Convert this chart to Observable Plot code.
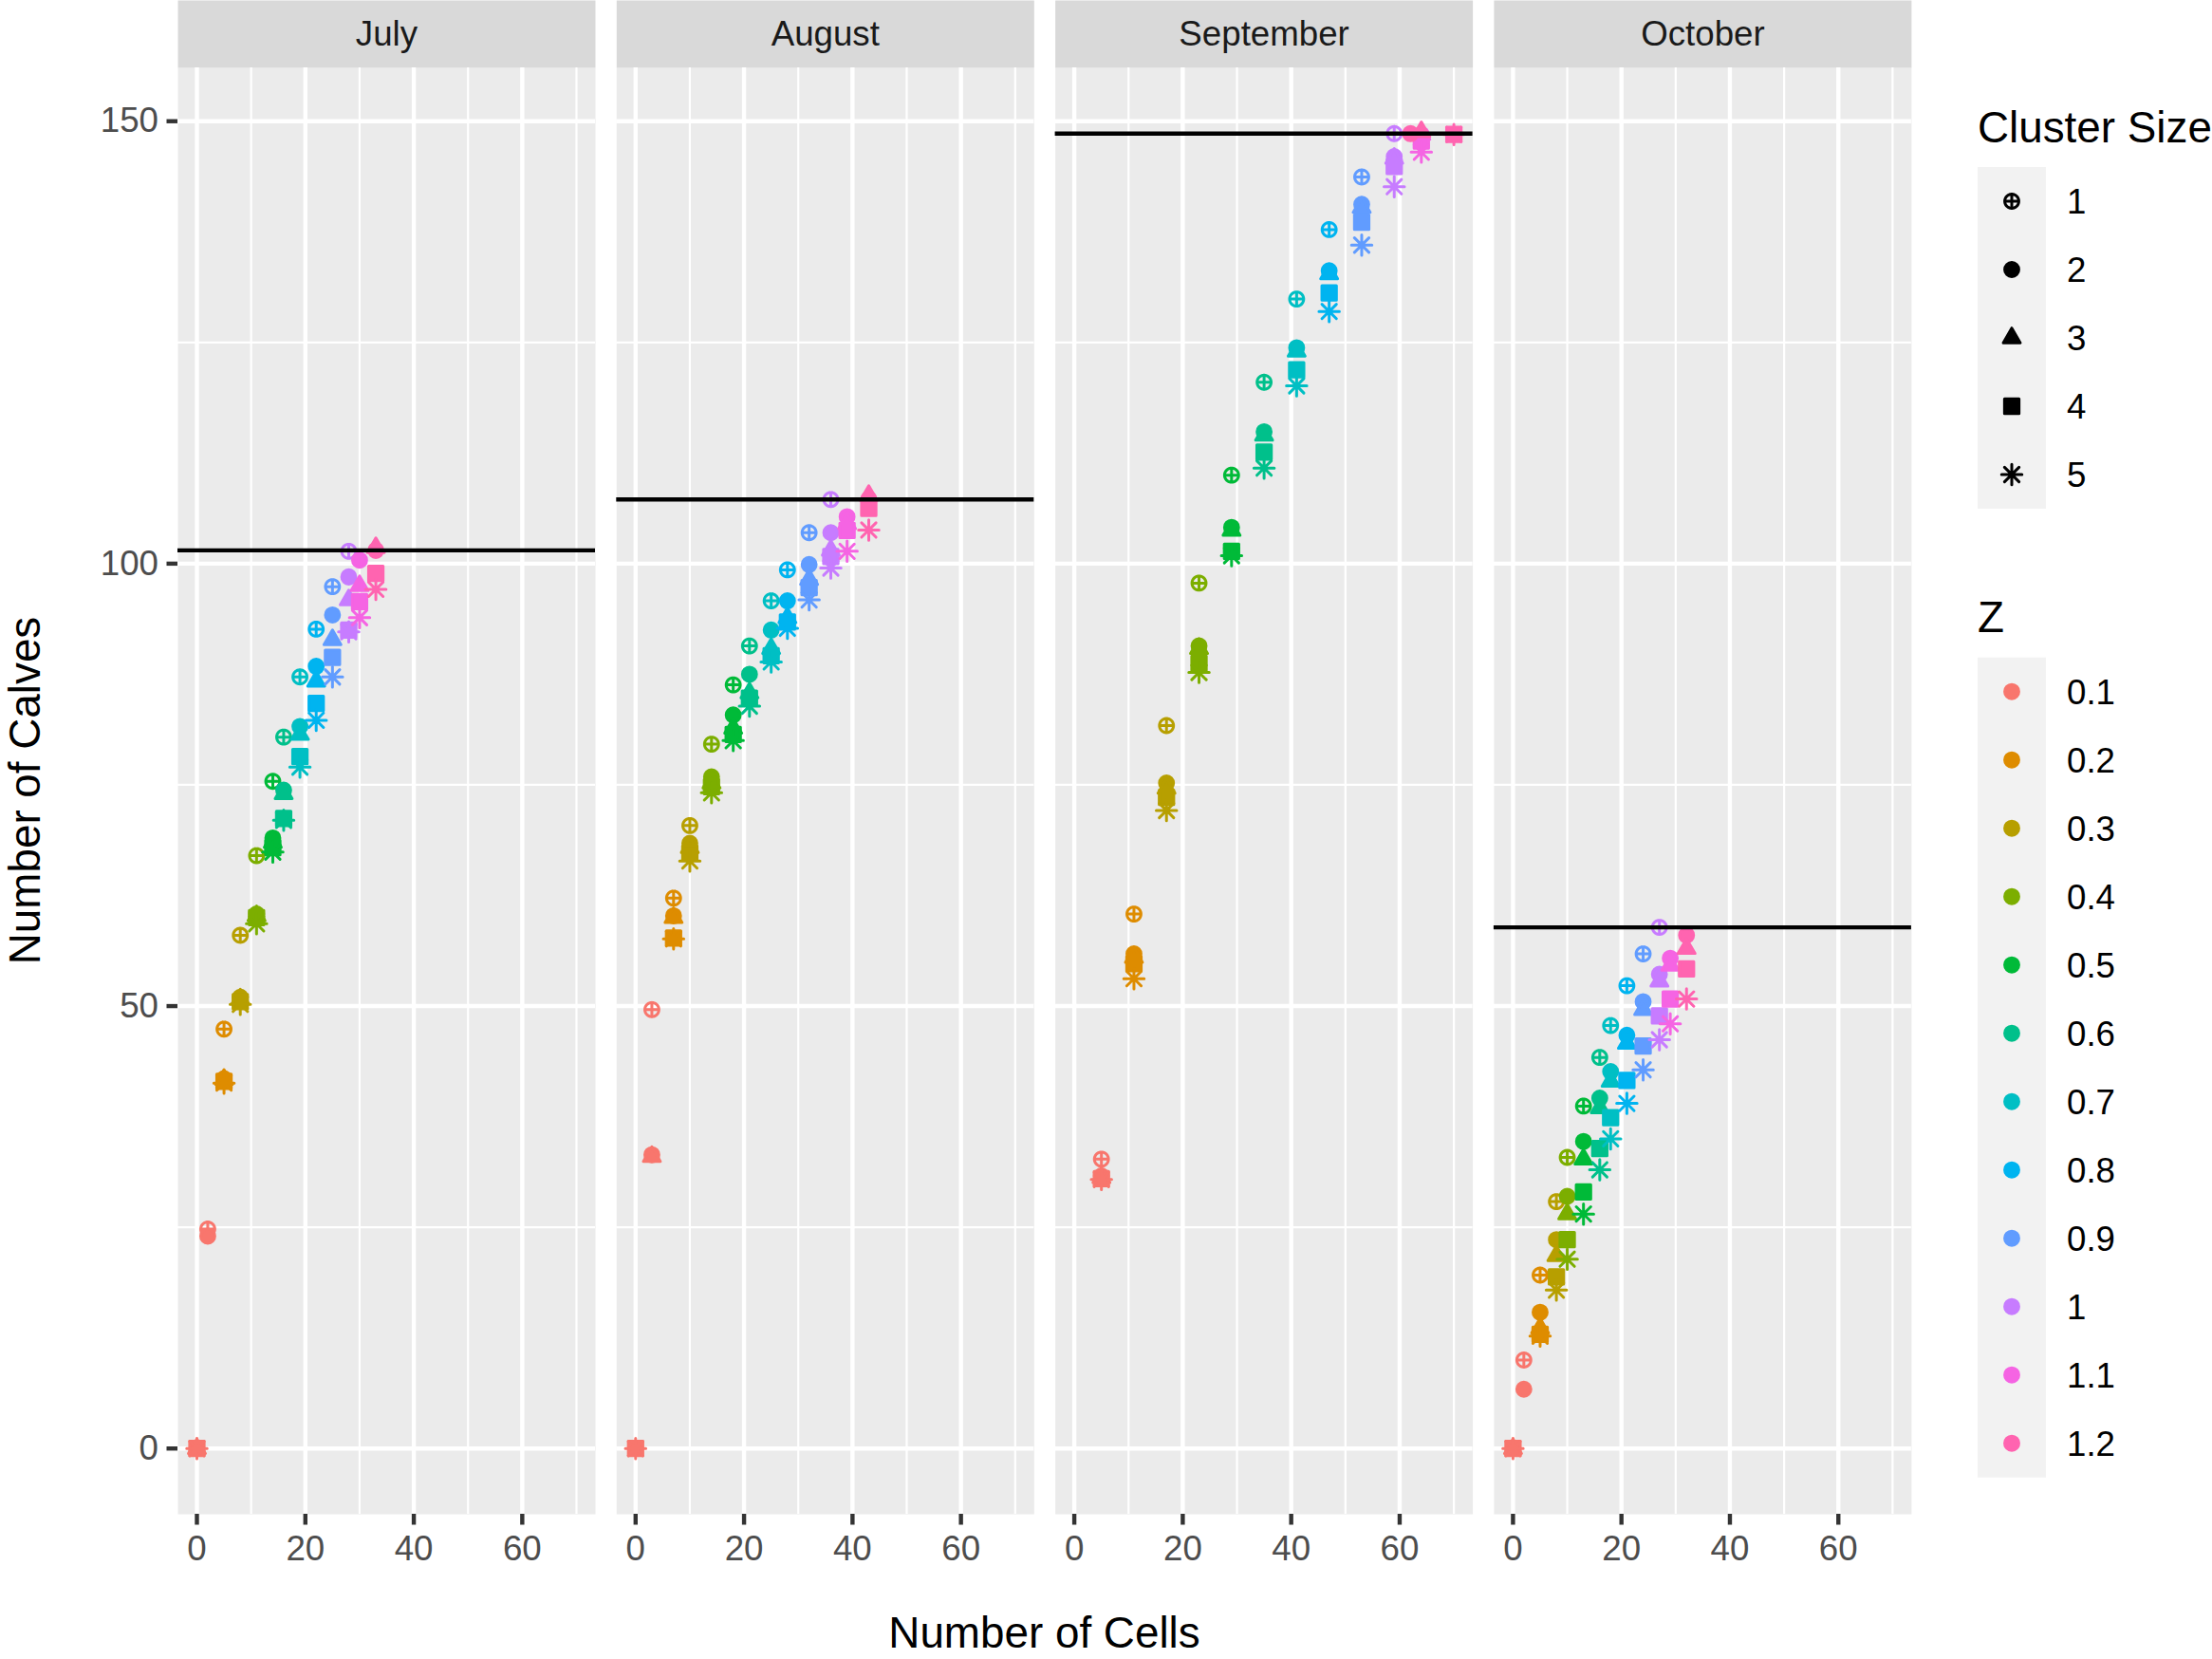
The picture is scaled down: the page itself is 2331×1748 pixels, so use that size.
<!DOCTYPE html>
<html>
<head>
<meta charset="utf-8">
<script src="https://cdn.jsdelivr.net/npm/d3@7"></script>
<script src="https://cdn.jsdelivr.net/npm/@observablehq/plot@0.6"></script>
<style>
html, body { margin: 0; padding: 0; background: #ffffff; }
#wrap { position: relative; width: 2331px; height: 1748px; overflow: hidden; background: #ffffff; }
#wrap > svg { position: absolute; left: 0; top: 0; }
</style>
</head>
<body>
<div id="wrap"></div>
<script>
// ---------------- data ----------------
const months = ["July", "August", "September", "October"];
const zLevels = ["0.1", "0.2", "0.3", "0.4", "0.5", "0.6", "0.7", "0.8", "0.9", "1", "1.1", "1.2"];
const zColors = ["#F8766D", "#DE8C00", "#B79F00", "#7CAE00", "#00BA38", "#00C08B",
                 "#00BFC4", "#00B4F0", "#619CFF", "#C77CFF", "#F564E3", "#FF64B0"];
const clusterSizes = [1, 2, 3, 4, 5];

// number of cells for each Z level
const julyCells      = [2, 5, 8, 11, 14, 16, 19, 22, 25, 28, 30, 33];
const augustCells    = [3, 7, 10, 14, 18, 21, 25, 28, 32, 36, 39, 43];
const septemberCells = [5, 11, 17, 23, 29, 35, 41, 47, 53, 59, 64, 70];
const octoberCells   = [2, 5, 8, 10, 13, 16, 18, 21, 24, 27, 29, 32];

// number of calves per cluster size (index = Z level); null = not shown
const julyCluster1 = [24.8, 47.4, 58.0, 67.0, 75.4, 80.4, 87.2, 92.6, 97.4, 101.4, null, null];
const julyCluster2 = [24.0, 41.8, 51.0, 60.4, 69.0, 74.4, 81.6, 88.4, 94.2, 98.5, 100.4, 101.5];
const julyCluster3 = [0, 41.7, 50.8, 60.2, 68.5, 74.0, 80.7, 86.7, 91.4, 95.9, 97.5, 101.8];
const julyCluster4 = [0, 41.5, 50.5, 60.0, 67.9, 71.2, 78.2, 84.2, 89.4, 92.5, 95.7, 98.9];
const julyCluster5 = [0, 41.3, 50.2, 59.3, 67.4, 71.0, 77.0, 82.3, 87.2, 92.3, 93.9, 97.1];

const augustCluster1 = [49.6, 62.2, 70.4, 79.6, 86.3, 90.7, 95.8, 99.3, 103.5, 107.25, null, null];
const augustCluster2 = [33.2, 60.2, 68.4, 75.9, 82.9, 87.5, 92.5, 95.8, 99.9, 103.5, 105.3, 107.3];
const augustCluster3 = [33.0, 60.0, 67.9, 75.2, 81.4, 85.4, 90.4, 93.9, 98.2, 101.5, 104.5, 107.7];
const augustCluster4 = [0, 57.7, 67.3, 74.8, 80.7, 84.8, 89.6, 93.4, 97.3, 100.8, 103.75, 106.25];
const augustCluster5 = [0, 57.6, 66.4, 74.1, 80.0, 83.9, 88.9, 92.7, 95.9, 99.5, 101.4, 103.8];

const septemberCluster1 = [32.7, 60.4, 81.7, 97.8, 110.0, 120.5, 129.9, 137.75, 143.7, 148.6, null, null];
const septemberCluster2 = [30.8, 55.9, 75.2, 90.7, 104.1, 114.9, 124.4, 133.1, 140.6, 146.0, 148.5, 148.6];
const septemberCluster3 = [30.6, 55.5, 74.6, 90.4, 103.75, 114.5, 124.0, 132.75, 140.25, 145.8, 148.5, 148.8];
const septemberCluster4 = [30.5, 54.8, 73.6, 88.75, 101.4, 112.6, 121.9, 130.6, 138.6, 144.9, 147.75, 148.5];
const septemberCluster5 = [30.4, 53.1, 72.1, 87.7, 100.9, 110.8, 120.1, 128.5, 136.0, 142.6, 146.5, 148.5];

const octoberCluster1 = [10.0, 19.6, 27.9, 32.9, 38.7, 44.2, 47.8, 52.3, 55.9, 58.9, null, null];
const octoberCluster2 = [6.7, 15.4, 23.6, 28.5, 34.7, 39.6, 42.6, 46.7, 50.5, 53.6, 55.4, 58.0];
const octoberCluster3 = [0, 13.6, 21.8, 26.5, 32.7, 38.5, 41.5, 45.8, 49.6, 52.8, 54.6, 56.5];
const octoberCluster4 = [0, 12.9, 19.4, 23.6, 29.0, 33.9, 37.4, 41.6, 45.5, 48.9, 50.8, 54.2];
const octoberCluster5 = [0, 12.7, 17.9, 21.4, 26.5, 31.5, 35.0, 39.0, 42.8, 46.2, 48.0, 50.8];

// points whose cell count differs from their Z level's value: [month, z, cluster, cells]
const cellOverrides = [["September", "1.2", 2, 62], ["September", "1.2", 3, 64]];

// total number of calves per month (horizontal line)
const totalCalves = [101.5, 107.25, 148.6, 58.9];

// axis ticks
const xMajorTicks = [0, 20, 40, 60];
const xMinorTicks = [10, 30, 50, 70];
const yMajorTicks = [0, 50, 100, 150];
const yMinorTicks = [25, 75, 125];

// ---------------- build tables ----------------
const cellsByMonth = [julyCells, augustCells, septemberCells, octoberCells];
const calvesByMonth = [
  [julyCluster1, julyCluster2, julyCluster3, julyCluster4, julyCluster5],
  [augustCluster1, augustCluster2, augustCluster3, augustCluster4, augustCluster5],
  [septemberCluster1, septemberCluster2, septemberCluster3, septemberCluster4, septemberCluster5],
  [octoberCluster1, octoberCluster2, octoberCluster3, octoberCluster4, octoberCluster5]
];
const rows = [];
months.forEach((m, mi) => {
  zLevels.forEach((z, zi) => {
    clusterSizes.forEach((c, ci) => {
      const v = calvesByMonth[mi][ci][zi];
      if (v == null) return;
      let cells = v === 0 ? 0 : cellsByMonth[mi][zi];
      const o = cellOverrides.find(d => d[0] === m && d[1] === z && d[2] === c);
      if (o) cells = o[3];
      rows.push({month: m, z, cluster: c, cells, calves: v});
    });
  });
});
const totals = months.map((m, i) => ({month: m, total: totalCalves[i]}));

// ---------------- symbols (R pch 10, 16, 17, 15, 8) ----------------
const kOf = size => Math.sqrt(size / Math.PI) / 8;
const circlePlus = {
  draw(ctx, size) {
    const k = kOf(size), r = 6.9 * k, n = 72;
    for (let i = 0; i < n; i++) {
      const a0 = 2 * Math.PI * i / n, a1 = 2 * Math.PI * (i + 1) / n;
      ctx.moveTo(r * Math.cos(a0), r * Math.sin(a0));
      ctx.lineTo(r * Math.cos(a1), r * Math.sin(a1));
    }
    ctx.moveTo(-r, 0); ctx.lineTo(r, 0);
    ctx.moveTo(0, -r); ctx.lineTo(0, r);
  }
};
const solidCircle = {
  draw(ctx, size) {
    const r = 6.9 * kOf(size);
    ctx.moveTo(r, 0);
    ctx.arc(0, 0, r, 0, 2 * Math.PI);
    ctx.closePath();
  }
};
const solidTriangle = {
  draw(ctx, size) {
    const R = 9.6 * kOf(size), h = R * Math.sqrt(3) / 2;
    ctx.moveTo(0, -R);
    ctx.lineTo(h, R / 2);
    ctx.lineTo(-h, R / 2);
    ctx.closePath();
  }
};
const solidSquare = {
  draw(ctx, size) {
    const s = 7.1 * kOf(size);
    ctx.moveTo(-s, -s); ctx.lineTo(s, -s); ctx.lineTo(s, s); ctx.lineTo(-s, s);
    ctx.closePath();
  }
};
const asterisk = {
  draw(ctx, size) {
    const a = 10.0 * kOf(size), d = a / Math.SQRT2;
    ctx.moveTo(-a, 0); ctx.lineTo(a, 0);
    ctx.moveTo(0, -a); ctx.lineTo(0, a);
    ctx.moveTo(-d, -d); ctx.lineTo(d, d);
    ctx.moveTo(-d, d); ctx.lineTo(d, -d);
  }
};
const clusterSymbols = [circlePlus, solidCircle, solidTriangle, solidSquare, asterisk];

// ---------------- chart ----------------
const FONT = "'Liberation Sans', Arial, Helvetica, sans-serif";
const R_PT = 8.6;
const SW = 3.0;
const chart = Plot.plot({
  width: 2331,
  height: 1748,
  marginLeft: 187,
  marginRight: 317.1,
  marginTop: 71,
  marginBottom: 153,
  style: {fontFamily: FONT, fontSize: "36.7px", background: "transparent", overflow: "visible"},
  fx: {domain: months, paddingInner: 0.04824, paddingOuter: 0, round: false, axis: null, label: null},
  x: {domain: [-3.5, 73.5], label: null},
  y: {domain: [-7.43, 156.03], label: null},
  color: {type: "ordinal", domain: zLevels, range: zColors},
  symbol: {domain: clusterSizes, range: clusterSymbols},
  marks: [
    Plot.frame({fill: "#EBEBEB", stroke: null}),
    Plot.frame({fill: "#D9D9D9", stroke: null, insetTop: -71, insetBottom: 1524}),
    Plot.ruleX(xMinorTicks, {x: d => d, stroke: "#ffffff", strokeWidth: 2.2}),
    Plot.ruleY(yMinorTicks, {y: d => d, stroke: "#ffffff", strokeWidth: 2.2}),
    Plot.ruleX(xMajorTicks, {x: d => d, stroke: "#ffffff", strokeWidth: 4.4}),
    Plot.ruleY(yMajorTicks, {y: d => d, stroke: "#ffffff", strokeWidth: 4.4}),
    Plot.dot(rows, {
      fx: "month", x: "cells", y: "calves",
      symbol: "cluster", fill: "z", stroke: "z", r: R_PT,
      strokeWidth: SW, strokeLinejoin: "round", strokeLinecap: "round"
    }),
    Plot.ruleY(totals, {fx: "month", y: "total", stroke: "#000000", strokeWidth: 4.4}),
    Plot.text(months, {fx: d => d, text: d => d, frameAnchor: "top", dy: -35.5,
      lineAnchor: "middle", fontSize: 36.7, fill: "#1A1A1A"}),
    Plot.axisX({ticks: xMajorTicks, tickSize: 11.5, tickPadding: 11, stroke: "#333333",
      strokeWidth: 4.4, fill: "#4D4D4D", fontSize: 36.7, label: null, tickFormat: d => String(d)}),
    Plot.axisY({ticks: yMajorTicks, tickSize: 11.5, tickPadding: 9, stroke: "#333333",
      strokeWidth: 4.4, fill: "#4D4D4D", fontSize: 36.7, label: null, tickFormat: d => String(d)})
  ]
});
const wrap = document.getElementById("wrap");
wrap.appendChild(chart);

// ---------------- titles & legends overlay ----------------
const ov = d3.select(wrap).append("svg")
  .attr("width", 2331).attr("height", 1748)
  .style("font-family", FONT)
  .style("pointer-events", "none");

ov.append("text").attr("x", 1100.5).attr("y", 1736).attr("text-anchor", "middle")
  .attr("font-size", 45.8).attr("fill", "#000").text("Number of Cells");
ov.append("text").attr("transform", "translate(42,833) rotate(-90)").attr("text-anchor", "middle")
  .attr("font-size", 45.8).attr("fill", "#000").text("Number of Calves");

const LX = 2084, KEY = 72;
const legendSize = Math.PI * R_PT * R_PT;
// Cluster Size legend
ov.append("text").attr("x", LX).attr("y", 150).attr("font-size", 45.8).attr("fill", "#000").text("Cluster Size");
ov.append("rect").attr("x", LX).attr("y", 176).attr("width", KEY).attr("height", KEY * clusterSizes.length).attr("fill", "#F2F2F2");
clusterSizes.forEach((c, i) => {
  const cy = 176 + KEY / 2 + KEY * i;
  ov.append("path")
    .attr("d", d3.symbol().type(clusterSymbols[i]).size(legendSize)())
    .attr("transform", `translate(${LX + KEY / 2},${cy})`)
    .attr("fill", "#000").attr("stroke", "#000").attr("stroke-width", SW)
    .attr("stroke-linejoin", "round").attr("stroke-linecap", "round");
  ov.append("text").attr("x", 2178).attr("y", cy).attr("dy", "0.35em")
    .attr("font-size", 36.7).attr("fill", "#000").text(String(c));
});
// Z legend
ov.append("text").attr("x", LX).attr("y", 666).attr("font-size", 45.8).attr("fill", "#000").text("Z");
ov.append("rect").attr("x", LX).attr("y", 692.7).attr("width", KEY).attr("height", KEY * zLevels.length).attr("fill", "#F2F2F2");
zLevels.forEach((z, i) => {
  const cy = 692.7 + KEY / 2 + KEY * i;
  ov.append("path")
    .attr("d", d3.symbol().type(solidCircle).size(legendSize)())
    .attr("transform", `translate(${LX + KEY / 2},${cy})`)
    .attr("fill", zColors[i]).attr("stroke", zColors[i]).attr("stroke-width", SW);
  ov.append("text").attr("x", 2178).attr("y", cy).attr("dy", "0.35em")
    .attr("font-size", 36.7).attr("fill", "#000").text(z);
});
</script>
</body>
</html>
